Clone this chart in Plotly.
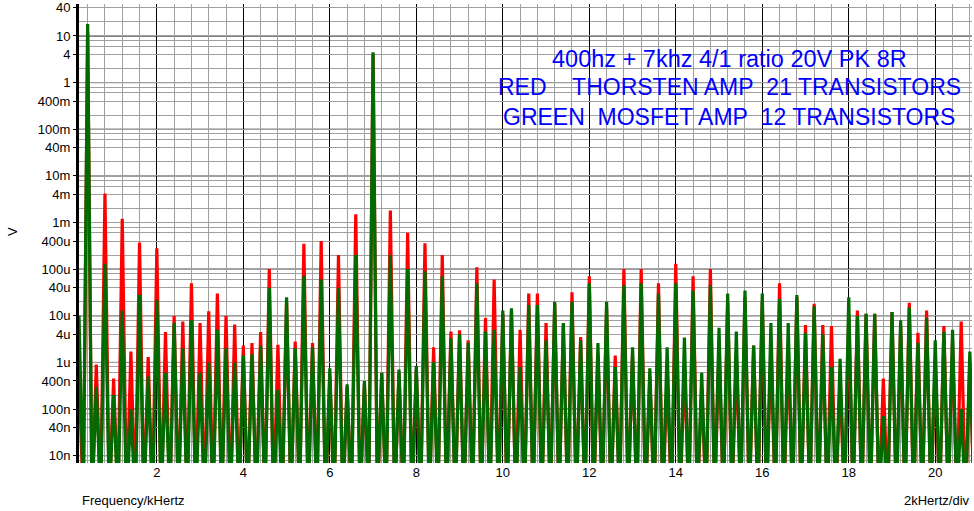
import plotly.graph_objects as go

# ---------------- data ----------------
# spectral lines every 200 Hz, frequency in kHz
freq_khz = [round(0.2 * k, 1) for k in range(1, 105)]

red_v = [
    5e-7, 12, 9e-7, 4.2e-3, 4.5e-7, 1.2e-3, 1.7e-6, 3.7e-4, 1.3e-6, 2.8e-4,      # 0.2 - 2.0
    4.5e-6, 1e-5, 7.5e-6, 5e-5, 7e-6, 1.25e-5, 3e-5, 1e-5, 6.5e-6, 2.3e-6,      # 2.2 - 4.0
    2.6e-6, 4.5e-6, 1e-4, 2.4e-6, 2e-5, 2.8e-6, 3.5e-4, 2.6e-6, 4e-4, 5e-7,     # 4.2 - 6.0
    2e-4, 3e-7, 1.5e-3, 3.5e-7, 4.0, 6e-7, 1.8e-3, 6e-7, 6e-4, 7e-7,            # 6.2 - 8.0
    3.6e-4, 2.1e-6, 2e-4, 4.6e-6, 4.9e-6, 3e-6, 1.1e-4, 9e-6, 6e-5, 1.1e-5,     # 8.2 - 10.0
    1.3e-5, 5e-6, 3e-5, 3e-5, 7e-6, 1.8e-5, 6e-6, 3.2e-5, 3.5e-6, 7e-5,         # 10.2 - 12.0
    1.5e-6, 1.5e-5, 1.4e-6, 1e-4, 1.5e-6, 1e-4, 5e-7, 5e-5, 5e-7, 1.3e-4,       # 12.2 - 14.0
    9e-7, 7e-5, 3e-7, 1e-4, 2.2e-6, 2e-5, 1.4e-6, 2.5e-5, 2.3e-6, 2e-5,         # 14.2 - 16.0
    2e-6, 5e-5, 2e-6, 2.5e-5, 6.3e-6, 1.8e-5, 6.3e-6, 6e-6, 4e-7, 1e-5,         # 16.2 - 18.0
    1.3e-5, 1.1e-5, 1.1e-5, 4.5e-7, 1.2e-5, 6e-6, 1.9e-5, 4.3e-6, 1.3e-5, 1.1e-6,  # 18.2 - 20.0
    6e-6, 3e-6, 7.5e-6, 1e-6,                                                    # 20.2 - 20.8
]

green_v = [
    1e-5, 18, 3e-7, 1.3e-4, 2e-7, 1.3e-5, 1e-7, 2.8e-5, 5e-7, 2.2e-5,           # 0.2 - 2.0
    6e-7, 7e-6, 2e-6, 8e-6, 6e-7, 1e-6, 5e-6, 2e-6, 1e-6, 1.4e-6,               # 2.2 - 4.0
    1.5e-6, 2.3e-6, 4e-5, 2.6e-7, 2.5e-5, 2e-6, 7e-5, 2.1e-6, 6e-5, 7.5e-7,     # 4.2 - 6.0
    4e-5, 3.4e-7, 2e-4, 4e-7, 4.5, 6e-7, 2e-4, 7e-7, 1e-4, 8.5e-7,              # 6.2 - 8.0
    9e-5, 1e-6, 7e-5, 3.3e-6, 4e-6, 2.6e-6, 5e-5, 4.6e-6, 5e-6, 1.3e-5,        # 8.2 - 10.0
    1.45e-5, 8e-7, 1.7e-5, 1.7e-5, 3e-6, 2e-5, 7e-6, 2e-5, 3e-6, 5e-5,         # 10.2 - 12.0
    2.6e-6, 2e-5, 8e-7, 4.5e-5, 2.1e-6, 5e-5, 7.5e-7, 3e-5, 2.1e-6, 5e-5,      # 12.2 - 14.0
    3.4e-6, 3.5e-5, 6e-7, 4.5e-5, 5.5e-6, 3e-5, 4.6e-6, 3.5e-5, 2.3e-6, 3e-5,  # 14.2 - 16.0
    7e-6, 2.3e-5, 7e-6, 2.8e-5, 4.3e-6, 1.6e-5, 4e-6, 8e-7, 1.2e-6, 2.5e-5,    # 16.2 - 18.0
    1e-5, 1.1e-5, 1.1e-5, 7e-8, 1.2e-5, 8e-6, 1.5e-5, 2.6e-6, 9e-6, 3e-6,      # 18.2 - 20.0
    4.6e-6, 5e-6, 1e-7, 1.7e-6,                                                 # 20.2 - 20.8
]

# between the lines both traces fall below the bottom of the plotted range
gap_level_v = 1e-9

y_tick_vals = [1e-8, 4e-8, 1e-7, 4e-7, 1e-6, 4e-6, 1e-5, 4e-5, 1e-4, 4e-4,
               1e-3, 4e-3, 1e-2, 4e-2, 1e-1, 4e-1, 1, 4, 10, 40]
y_tick_text = ["10n", "40n", "100n", "400n", "1u", "4u", "10u", "40u", "100u", "400u",
               "1m", "4m", "10m", "40m", "100m", "400m", "1", "4", "10", "40"]
x_tick_vals = [2, 4, 6, 8, 10, 12, 14, 16, 18, 20]
x_tick_text = ["2", "4", "6", "8", "10", "12", "14", "16", "18", "20"]

title_lines = [
    "400hz + 7khz 4/1 ratio 20V PK 8R",
    "RED\u00a0\u00a0\u00a0\u00a0THORSTEN AMP\u00a0\u00a021 TRANSISTORS",
    "GREEN\u00a0\u00a0MOSFET AMP\u00a0\u00a012 TRANSISTORS",
]

# ---------------- build ----------------
def line_path(freqs, peaks, gap):
    xs, ys = [], []
    for f, p in zip(freqs, peaks):
        xs += [f, round(f + 0.1, 2)]
        ys += [p, gap]
    return xs, ys

decades = [10.0 ** e for e in range(-9, 2)]
minor_vals = [m * d for d in decades for m in (2, 6, 8)]
x_minor = [round(0.4 * k, 1) for k in range(1, 53)]

FONT = "Liberation Sans, Arial, sans-serif"
W, H = 974, 511
L, R, T, B = 79, 2, 4, 48

fig = go.Figure()
rx, ry = line_path(freq_khz, red_v, gap_level_v)
gx, gy = line_path(freq_khz, green_v, gap_level_v)
fig.add_trace(go.Scatter(x=rx, y=ry, mode="lines", line=dict(color="#ff0000", width=3.2),
                         name="RED", showlegend=False, hoverinfo="skip"))
fig.add_trace(go.Scatter(x=gx, y=gy, mode="lines", line=dict(color="#006b00", width=3.2),
                         name="GREEN", showlegend=False, hoverinfo="skip"))

# black decade grid lines
for d in [10.0 ** e for e in range(-8, 2)]:
    fig.add_shape(type="line", xref="paper", x0=0, x1=1, yref="y", y0=d, y1=d,
                  line=dict(color="#000000", width=1), layer="between")

fig.update_layout(
    width=W, height=H,
    margin=dict(l=L, r=R, t=T, b=B, autoexpand=False),
    paper_bgcolor="white", plot_bgcolor="white",
    font=dict(family=FONT, size=13, color="black"),
    showlegend=False,
    xaxis=dict(
        range=[0.2, 20.85], tickmode="array", tickvals=x_tick_vals, ticktext=x_tick_text,
        showgrid=True, gridcolor="#000000", gridwidth=1, zeroline=False, automargin=False,
        ticks="", showline=False, tickfont=dict(size=13),
        minor=dict(tickmode="array", tickvals=x_minor, showgrid=True, gridcolor="#a0a0a0", gridwidth=1, ticks=""),
    ),
    yaxis=dict(
        type="log", range=[-8.157, 1.686], tickmode="array", tickvals=y_tick_vals, ticktext=y_tick_text,
        showgrid=True, gridcolor="#a0a0a0", gridwidth=1, zeroline=False, automargin=False,
        ticks="outside", ticklen=3, tickcolor="black", tickwidth=1,
        showline=True, linecolor="black", linewidth=3, tickfont=dict(size=13),
        minor=dict(tickmode="array", tickvals=minor_vals, showgrid=True, gridcolor="#a0a0a0", gridwidth=1, ticks=""),
    ),
)

def px_to_paper(px, py):
    return (px - L) / (W - L - R), (H - B - py) / (H - T - B)

annos = []
for text, py, size in zip(title_lines, [58.7, 87.5, 117.3], [23.5, 23, 23]):
    ax, ay = px_to_paper(729, py)
    annos.append(dict(text=text, x=ax, y=ay, xref="paper", yref="paper", xanchor="center", yanchor="middle",
                      showarrow=False, font=dict(family=FONT, size=size, color="#0000ff")))
ax, ay = px_to_paper(12, 232)
annos.append(dict(text="V", x=ax, y=ay, xref="paper", yref="paper", textangle=-90, showarrow=False,
                  xanchor="center", yanchor="middle", font=dict(size=13)))
ax, ay = px_to_paper(80, 500)
annos.append(dict(text="Frequency/kHertz", x=ax, y=ay, xref="paper", yref="paper", xanchor="left",
                  yanchor="middle", showarrow=False, font=dict(size=13)))
ax, ay = px_to_paper(972, 500)
annos.append(dict(text="2kHertz/div", x=ax, y=ay, xref="paper", yref="paper", xanchor="right",
                  yanchor="middle", showarrow=False, font=dict(size=13)))
fig.update_layout(annotations=annos)

fig.write_html("out.html", config={"displayModeBar": False},
               post_script="document.body.style.margin='0';document.body.style.overflow='hidden';")
